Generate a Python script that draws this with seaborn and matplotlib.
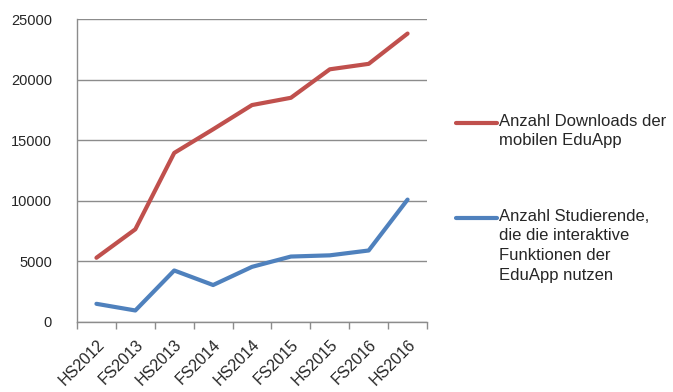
import numpy as np
import pandas as pd
import matplotlib
matplotlib.use("Agg")
import matplotlib.pyplot as plt
import seaborn as sns

# Semester und Werte
semester = ["HS2012", "FS2013", "HS2013", "FS2014", "HS2014",
            "FS2015", "HS2015", "FS2016", "HS2016"]
downloads = [5300, 7650, 13950, 15900, 17900, 18500, 20850, 21300, 23800]
studierende = [1500, 950, 4250, 3050, 4550, 5400, 5500, 5900, 10100]

label_dl = "Anzahl Downloads der\nmobilen EduApp"
label_st = "Anzahl Studierende,\ndie die interaktive\nFunktionen der\nEduApp nutzen"

pos = np.arange(len(semester))
df = pd.concat([
    pd.DataFrame({"pos": pos, "wert": downloads, "serie": label_dl}),
    pd.DataFrame({"pos": pos, "wert": studierende, "serie": label_st}),
])

sns.set_style("white")
plt.rcParams["font.family"] = ["Liberation Sans", "DejaVu Sans"]
plt.rcParams["ytick.major.pad"] = 18
plt.rcParams["ytick.major.size"] = 0

fig = plt.figure(figsize=(6.73, 3.92), dpi=100)
ax = fig.add_axes([0.1144, 0.1786, 0.5201, 0.7729])

sns.lineplot(data=df, x="pos", y="wert", hue="serie",
             palette={label_dl: "#C0504D", label_st: "#4F81BD"},
             linewidth=3, ax=ax, legend=False)

ax.set_xlim(-0.5, len(semester) - 0.5)
ax.set_ylim(0, 25000)
ax.set_yticks(range(0, 25001, 5000))
ax.yaxis.grid(True, color="#8C8C8C", linewidth=1)
ax.set_axisbelow(True)

ax.set_xticks(pos)
ax.set_xticklabels(semester, rotation=45, ha="right", rotation_mode="anchor")
ax.set_xticks(np.arange(-0.5, len(semester), 1.0), minor=True)
ax.tick_params(axis="x", which="major", bottom=False, pad=7, labelsize=11.5)
ax.tick_params(axis="x", which="minor", bottom=True, length=5,
               color="#8C8C8C", width=1, direction="out")
ax.tick_params(axis="y", labelsize=10.5)
ax.set_xlabel("")
ax.set_ylabel("")

for s in ["top", "right"]:
    ax.spines[s].set_visible(False)
for s in ["left", "bottom"]:
    ax.spines[s].set_color("#8C8C8C")
    ax.spines[s].set_linewidth(1)

# Legende rechts neben dem Diagramm
for lab, farbe, y in [(label_dl, "#C0504D", 0.686), (label_st, "#4F81BD", 0.444)]:
    fig.lines.append(plt.Line2D([0.678, 0.738], [y, y], color=farbe,
                                linewidth=3, transform=fig.transFigure))
    fig.text(0.741, y + 0.024, lab, fontsize=12, va="top", ha="left",
             linespacing=1.4, transform=fig.transFigure)

fig.savefig("out.png", dpi=100)
